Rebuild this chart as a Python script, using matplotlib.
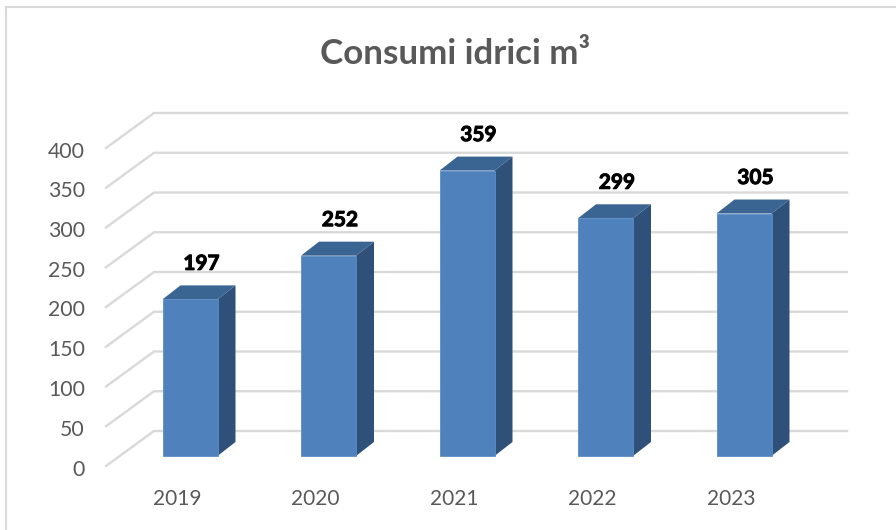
import matplotlib
matplotlib.use("Agg")
import matplotlib.pyplot as plt
import matplotlib.patheffects as pe
from matplotlib.lines import Line2D

years = ["2019", "2020", "2021", "2022", "2023"]
consumi = [197, 252, 359, 299, 305]
y_ticks = [0, 50, 100, 150, 200, 250, 300, 350, 400]
title = "Consumi idrici m³"

plt.rcParams["font.family"] = ["Lato", "DejaVu Sans"]

W, H = 896, 530
# one category step and one value unit, in pixels
STEP_PX = 138.5
UNIT_PX = 0.795
X0_PX = 190   # centre of first bar front
Y0_PX = 456   # bottom of bar fronts


def dx(px):
    return px / STEP_PX


def dy(px):
    return px / UNIT_PX


fig = plt.figure(figsize=(W / 100, H / 100), dpi=100, facecolor="white")
ax = fig.add_axes([0, 0, 1, 1])
ax.set_xlim(dx(-X0_PX), dx(W - X0_PX))
ax.set_ylim(dy(Y0_PX - H), dy(Y0_PX))
ax.set_axis_off()

# 3d look: walls behind the bars
grid_color = "#d9d9d9"
wall_left = dx(154 - X0_PX)
wall_right = dx(847 - X0_PX)
floor_left = dx(106 - X0_PX)
wall_up = dy(25)
floor_down = dy(-10)
for v in y_ticks:
    ax.plot([floor_left, wall_left, wall_right],
            [v + floor_down, v + wall_up, v + wall_up],
            color=grid_color, lw=1.7, solid_joinstyle="miter", zorder=1)
    ax.text(dx(85 - X0_PX), v + floor_down - dy(3.5), str(v), ha="right", va="center",
            fontsize=15.3, color="#595959")

# bars
positions = list(range(len(years)))
bar_w = dx(55)
depth_x = dx(18)
depth_y = dy(14)
ax.bar(positions, consumi, width=bar_w, color="#4f81bd", edgecolor="#5b8cc6",
       linewidth=0.6, zorder=3)
for x, v in zip(positions, consumi):
    r = x + bar_w / 2
    l = x - bar_w / 2
    ax.fill([r, r + depth_x, r + depth_x, r], [0, depth_y, v + depth_y, v],
            color="#2f5079", lw=0, zorder=2)
    ax.fill([l, l + depth_x, r + depth_x, r], [v, v + depth_y, v + depth_y, v],
            color="#3a6492", lw=0, zorder=2)
    ax.text(x + dx(11.5), v + dy(35.5), str(v), ha="center", va="center",
            fontsize=15, fontweight="bold", color="black", zorder=4,
            path_effects=[pe.withStroke(linewidth=0.7, foreground="black")])

for x, year in zip(positions, years):
    ax.text(x - dx(13), dy(Y0_PX - 499), year, ha="center", va="center",
            fontsize=15, color="#595959")

fig.text(455 / W, 1 - 54 / H, title, ha="center", va="center",
         fontsize=25.2, fontweight="bold", color="#595959")

# chart frame, only left and top are inside the crop
fig.add_artist(Line2D([5.5 / W, 5.5 / W, 1], [0, 1 - 6.5 / H, 1 - 6.5 / H],
                      color=grid_color, lw=1.5, solid_joinstyle="miter"))

fig.savefig("out.png", dpi=100, facecolor="white")
